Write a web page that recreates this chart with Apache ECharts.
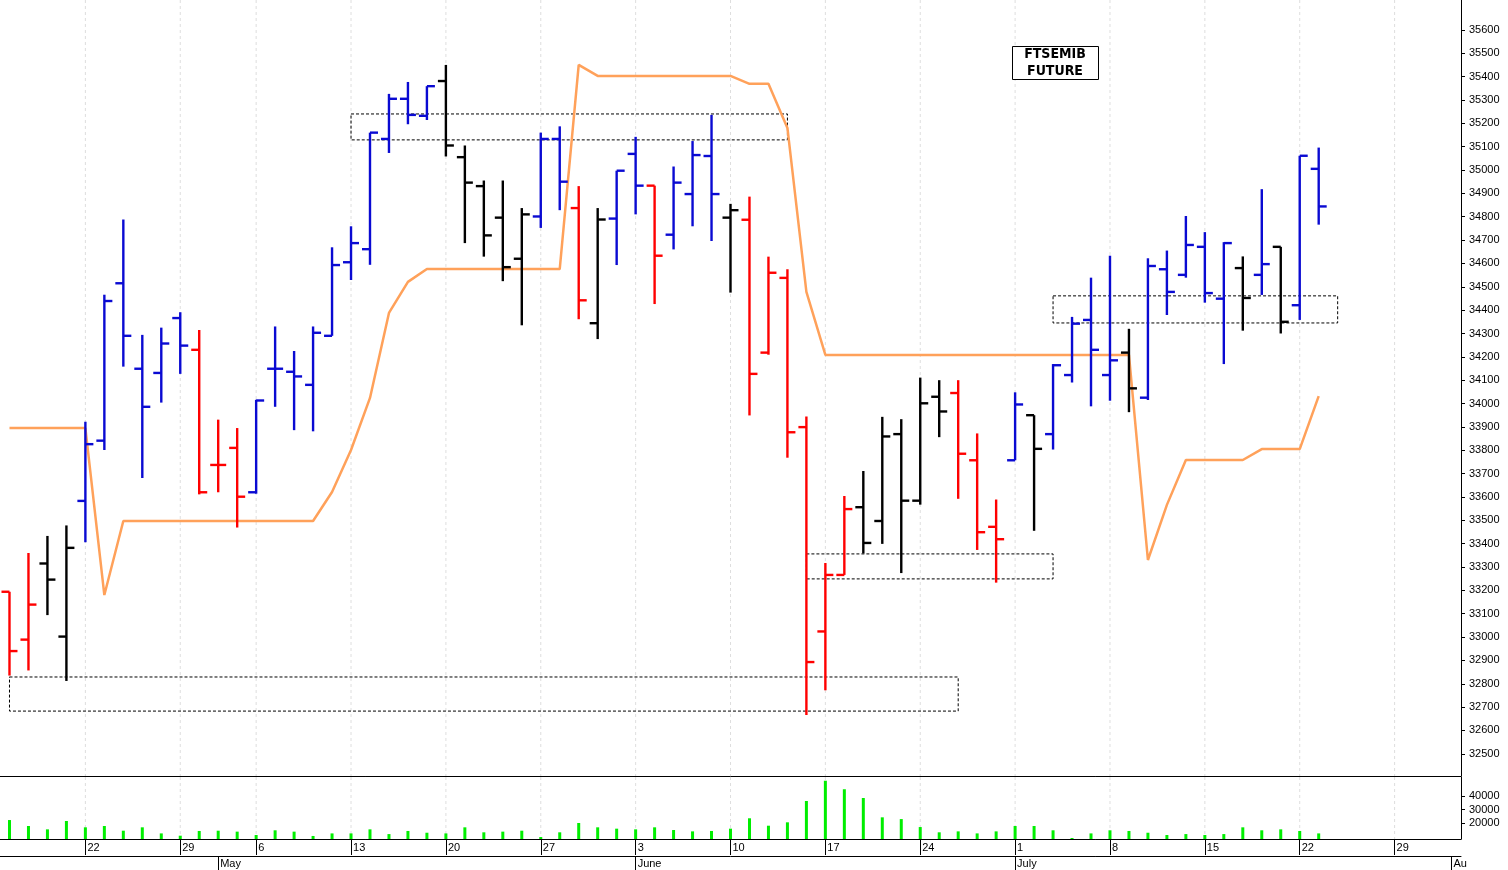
<!DOCTYPE html>
<html><head><meta charset="utf-8">
<script src="https://cdn.jsdelivr.net/npm/echarts@6/dist/echarts.min.js"></script>
<style>html,body{margin:0;padding:0;background:#fff}#c{width:1508px;height:870px}</style>
</head><body><div id="c"></div>
<script>
const categories = [
'2024-04-16','2024-04-17','2024-04-18','2024-04-19','2024-04-22','2024-04-23','2024-04-24','2024-04-25','2024-04-26','2024-04-29','2024-04-30',
'2024-05-02','2024-05-03','2024-05-06','2024-05-07','2024-05-08','2024-05-09','2024-05-10','2024-05-13','2024-05-14','2024-05-15','2024-05-16','2024-05-17','2024-05-20','2024-05-21','2024-05-22','2024-05-23','2024-05-24','2024-05-27','2024-05-28','2024-05-29','2024-05-30','2024-05-31',
'2024-06-03','2024-06-04','2024-06-05','2024-06-06','2024-06-07','2024-06-10','2024-06-11','2024-06-12','2024-06-13','2024-06-14','2024-06-17','2024-06-18','2024-06-19','2024-06-20','2024-06-21','2024-06-24','2024-06-25','2024-06-26','2024-06-27','2024-06-28',
'2024-07-01','2024-07-02','2024-07-03','2024-07-04','2024-07-05','2024-07-08','2024-07-09','2024-07-10','2024-07-11','2024-07-12','2024-07-15','2024-07-16','2024-07-17','2024-07-18','2024-07-19','2024-07-22','2024-07-23','2024-07-24','2024-07-25','2024-07-26','2024-07-29','2024-07-30','2024-07-31',
'2024-08-01'];
const monthNames = {'05':'May','06':'June','07':'July','08':'Au'};
const openP  = [33194,32989,33315,33002,33583,33841,34515,34149,34131,34366,34230,33737,33810,33620,34149,34136,34080,34290,34605,34661,35133,35305,35232,35381,35055,34931,34796,34620,34801,35133,34837,34344,34792,35069,34933,34723,34897,35060,34796,34787,34218,34538,33899,33024,33266,33556,33497,33869,33584,34029,34045,33757,33472,33757,33950,33869,34122,34358,34122,34218,34025,34575,34551,34671,34449,34580,34551,34671,34421,35005];
const highP  = [33194,33360,33433,33478,33922,34466,34788,34294,34325,34391,34315,33931,33895,34016,34330,34225,34330,34669,34759,35160,35326,35377,35359,35450,35105,34955,34955,34837,35160,35187,34931,34837,34997,35142,34933,35015,35124,35236,34855,34886,34629,34575,33944,33317,33604,33711,33943,33933,34111,34100,34100,33872,33589,34048,33950,34169,34371,34539,34633,34320,34622,34655,34803,34734,34691,34630,34918,34671,35061,35096];
const lowP   = [32835,32857,33094,32812,33406,33801,34158,33681,34004,34127,33611,33620,33469,33614,33986,33886,33881,34290,34529,34594,35073,35196,35214,35058,34687,34629,34524,34335,34752,34828,34361,34276,34593,34810,34426,34660,34759,34696,34475,33949,34209,33768,32666,32772,33266,33358,33399,33274,33567,33856,33592,33373,33233,33757,33455,33803,34090,33988,34012,33963,34015,34379,34539,34432,34169,34312,34465,34300,34358,34766];
const closeP = [32940,33139,33246,33382,33826,34439,34290,33986,34257,34248,33620,33737,33601,34013,34149,34116,34303,34593,34687,35160,35305,35236,35359,35105,34946,34720,34584,34810,35133,34950,34442,34788,34997,34933,34633,34946,35064,34897,34828,34127,34560,33877,32893,33266,33548,33403,33859,33584,34001,33966,33785,33449,33419,33996,33806,34164,34342,34230,34185,34065,34589,34478,34679,34473,34687,34452,34597,34350,35061,34844];
const signal = ['d','d','n','n','u','u','u','u','u','u','d','d','d','u','u','u','u','u','u','u','u','u','u','n','n','n','n','n','u','u','d','n','u','u','d','u','u','u','n','d','d','d','d','d','d','n','n','n','n','n','d','d','d','u','n','u','u','u','u','n','u','u','u','u','u','n','u','n','u','u'];
const trendLine = [33895,33895,33895,33895,33895,33180,33497,33497,33497,33497,33497,33497,33497,33497,33497,33497,33497,33621,33801,34024,34388,34521,34576,34576,34576,34576,34576,34576,34576,34576,35450,35403,35403,35403,35403,35403,35403,35403,35403,35369,35369,35180,34478,34208,34208,34208,34208,34208,34208,34208,34208,34208,34208,34208,34208,34208,34208,34208,34208,34208,33330,33566,33758,33758,33758,33758,33805,33805,33805,34032];
const volume = [22200,17800,15300,21500,16800,17800,14300,16800,12300,10600,14100,14300,13600,11100,14600,13600,10400,12300,12300,15300,11800,14100,12800,12300,16800,13100,13600,14300,9600,13100,20000,16800,15800,15300,16800,14800,13800,14100,15800,23500,18000,20500,36300,51300,45000,38500,24200,22900,17000,13100,13800,12300,13800,17800,17800,14600,8900,12300,14600,14100,12800,11100,11800,11100,11800,16800,14600,15300,14100,12300];
// boxes: [startIndex, endIndex, top, bottom]
const boxes = [[18,41,35240,35129],[0,50,32829,32683],[42,55,33356,33249],[55,70,34461,34345]];
const priceTicks = [32500,32600,32700,32800,32900,33000,33100,33200,33300,33400,33500,33600,33700,33800,33900,34000,34100,34200,34300,34400,34500,34600,34700,34800,34900,35000,35100,35200,35300,35400,35500,35600];
const volumeTicks = [20000,30000,40000];
const titleLines = ['FTSEMIB','FUTURE'];

const colorOf = {u:'#0a0ad2', d:'#ff0000', n:'#000000'};
const isMonday = s => new Date(s+'T12:00:00').getDay() === 1;
const firstOfMonth = i => i>0 && categories[i].slice(5,7) !== categories[i-1].slice(5,7);
const ohlc = openP.map((o,i)=>[i,o,highP[i],lowP[i],closeP[i]]);
const mondayIdx = categories.map((c,i)=>isMonday(c)?[i]:null).filter(Boolean);
const gridLineRender = (p,api)=>{
  const x=api.coord([api.value(0),0])[0]; const cs=p.coordSys;
  return {type:'line',shape:{x1:x,y1:cs.y,x2:x,y2:cs.y+cs.height},style:{stroke:'#dedede',lineWidth:1,lineDash:[3,3]}};
};

const chart = echarts.init(document.getElementById('c'));
const font = 'Liberation Sans';
chart.setOption({
  animation:false,
  grid:[{left:0,top:0,width:1461,height:776},{left:0,top:777,width:1461,height:62}],
  xAxis:[
    {type:'category',gridIndex:0,position:'bottom',data:categories,axisLine:{lineStyle:{color:'#000',width:1}},axisTick:{show:false},axisLabel:{show:false},splitLine:{show:false}},
    {type:'category',gridIndex:1,position:'bottom',data:categories,axisLine:{lineStyle:{color:'#000',width:1}},
     axisTick:{show:true,alignWithLabel:true,length:16,interval:(i,v)=>isMonday(v),lineStyle:{color:'#000'}},
     axisLabel:{interval:(i,v)=>isMonday(v),formatter:v=>String(+v.slice(8)),align:'left',padding:[0,0,0,2],margin:3,fontSize:11,fontFamily:font,color:'#000'},
     splitLine:{show:false}},
    {type:'category',gridIndex:1,position:'bottom',data:categories,offset:17,axisLine:{lineStyle:{color:'#000',width:1}},
     axisTick:{show:true,alignWithLabel:true,length:14,interval:(i)=>firstOfMonth(i),lineStyle:{color:'#000'}},
     axisLabel:{interval:(i)=>firstOfMonth(i),formatter:v=>monthNames[v.slice(5,7)]||'',align:'left',padding:[0,0,0,2],margin:2,fontSize:11,fontFamily:font,color:'#000'},
     splitLine:{show:false}}
  ],
  yAxis:[
    {type:'value',gridIndex:0,position:'right',min:32405,max:35728,splitLine:{show:false},
     axisLine:{show:true,lineStyle:{color:'#000'}},axisTick:{show:true,customValues:priceTicks,length:4,lineStyle:{color:'#000'}},
     axisLabel:{customValues:priceTicks,formatter:v=>String(v),fontSize:11,fontFamily:font,color:'#000',margin:8}},
    {type:'value',gridIndex:1,position:'right',min:8150,max:54070,splitLine:{show:false},
     axisLine:{show:true,lineStyle:{color:'#000'}},axisTick:{show:true,customValues:volumeTicks,length:4,lineStyle:{color:'#000'}},
     axisLabel:{customValues:volumeTicks,formatter:v=>String(v),fontSize:11,fontFamily:font,color:'#000',margin:8}}
  ],
  series:[
    {type:'custom',xAxisIndex:0,yAxisIndex:0,data:mondayIdx,z:0,silent:true,renderItem:gridLineRender},
    {type:'custom',xAxisIndex:1,yAxisIndex:1,data:mondayIdx,z:0,silent:true,renderItem:gridLineRender},
    {type:'custom',xAxisIndex:0,yAxisIndex:0,data:boxes,z:1,renderItem:(p,api)=>{
      const a=api.coord([api.value(0),api.value(2)]), b=api.coord([api.value(1),api.value(3)]);
      return {type:'rect',shape:{x:a[0],y:a[1],width:b[0]-a[0],height:b[1]-a[1]},style:{fill:'none',stroke:'#000',lineWidth:1,lineDash:[3,2]}};
    }},
    {type:'line',xAxisIndex:0,yAxisIndex:0,data:trendLine,symbol:'none',z:2,lineStyle:{color:'#ffa15a',width:2.5}},
    {type:'custom',xAxisIndex:0,yAxisIndex:0,data:ohlc,z:3,renderItem:(p,api)=>{
      const i=api.value(0);
      const x=api.coord([i,0])[0];
      const yo=api.coord([i,api.value(1)])[1], yh=api.coord([i,api.value(2)])[1], yl=api.coord([i,api.value(3)])[1], yc=api.coord([i,api.value(4)])[1];
      const st={stroke:colorOf[signal[i]],lineWidth:2.4};
      return {type:'group',children:[
        {type:'line',shape:{x1:x,y1:yh,x2:x,y2:yl},style:st},
        {type:'line',shape:{x1:x-8,y1:yo,x2:x,y2:yo},style:st},
        {type:'line',shape:{x1:x,y1:yc,x2:x+8,y2:yc},style:st}]};
    }},
    {type:'bar',xAxisIndex:1,yAxisIndex:1,data:volume,barWidth:3,z:3,itemStyle:{color:'#00ee00'}}
  ],
  graphic:[
    {type:'rect',left:1012,top:46,shape:{width:86,height:33},style:{fill:'#fff',stroke:'#000',lineWidth:1},z:10},
    {type:'text',x:1055,y:46,style:{text:titleLines.join('\n'),font:'bold 14px "DejaVu Sans Condensed", "DejaVu Sans"',fill:'#000',lineHeight:17,align:'center'},z:11}
  ]
});
</script></body></html>
